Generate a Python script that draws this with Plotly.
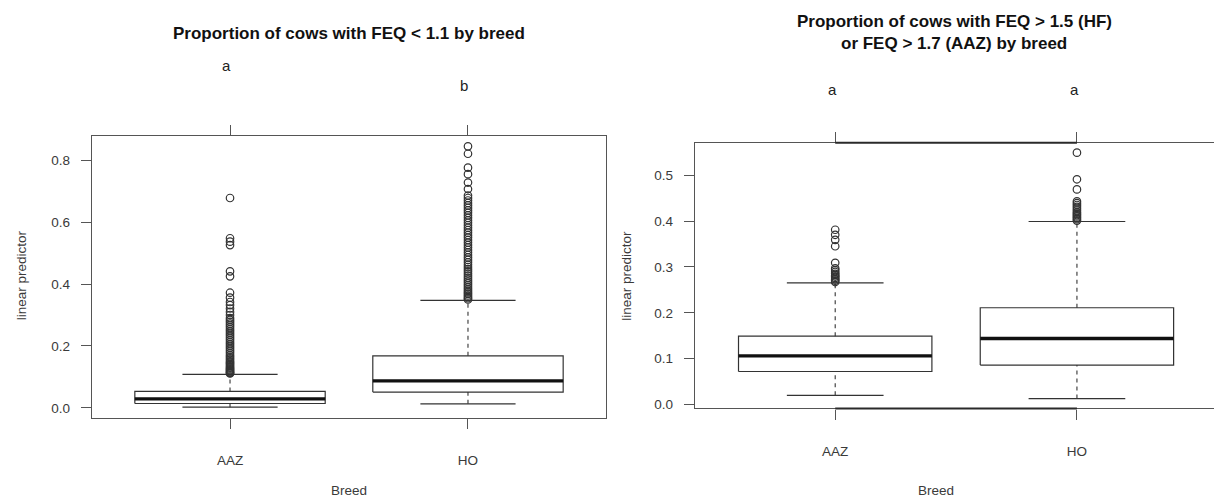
import plotly.graph_objects as go

W, H = 1214, 500

categories = ["AAZ", "HO"]
positions = [1, 2]

# ---- left panel: FEQ < 1.1 ----
left_title = "Proportion of cows with FEQ < 1.1 by breed"
left_letters = ["a", "b"]
left_lower = [0.002, 0.013]
left_q1 = [0.014, 0.051]
left_median = [0.029, 0.087]
left_q3 = [0.053, 0.168]
left_upper = [0.108, 0.347]
left_out_aaz = [0.111, 0.113, 0.115, 0.118, 0.121, 0.124, 0.127, 0.130, 0.134, 0.138,
                0.142, 0.146, 0.150, 0.155, 0.160, 0.165, 0.170, 0.176, 0.182, 0.188,
                0.194, 0.200, 0.206, 0.212, 0.218, 0.224, 0.230, 0.236, 0.242, 0.248,
                0.254, 0.260, 0.266, 0.272, 0.278, 0.284, 0.290, 0.300, 0.310, 0.321,
                0.332, 0.342, 0.356, 0.372, 0.425, 0.441, 0.526, 0.537, 0.548, 0.678]
left_out_ho = [0.350, 0.354, 0.358, 0.363, 0.368, 0.373, 0.378, 0.384, 0.390, 0.396,
               0.402, 0.408, 0.414, 0.420, 0.427, 0.434, 0.441, 0.448, 0.455, 0.462,
               0.470, 0.478, 0.486, 0.494, 0.502, 0.510, 0.518, 0.526, 0.534, 0.542,
               0.550, 0.558, 0.566, 0.574, 0.582, 0.590, 0.598, 0.606, 0.614, 0.622,
               0.630, 0.638, 0.646, 0.654, 0.662, 0.670, 0.678, 0.686, 0.707, 0.728,
               0.755, 0.776, 0.821, 0.845]

# ---- right panel: FEQ > 1.5 (HF) / > 1.7 (AAZ) ----
right_title_1 = "Proportion of cows with FEQ > 1.5 (HF)"
right_title_2 = "or FEQ > 1.7 (AAZ) by breed"
right_letters = ["a", "a"]
right_lower = [0.020, 0.013]
right_q1 = [0.072, 0.086]
right_median = [0.106, 0.144]
right_q3 = [0.149, 0.211]
right_upper = [0.265, 0.399]
right_out_aaz = [0.267, 0.270, 0.273, 0.276, 0.279, 0.282, 0.285, 0.289, 0.293, 0.297,
                 0.309, 0.345, 0.359, 0.370, 0.381]
right_out_ho = [0.401, 0.404, 0.407, 0.410, 0.413, 0.416, 0.419, 0.423, 0.427, 0.431,
                0.435, 0.439, 0.443, 0.469, 0.491, 0.549]

y_ticks_left = [0.0, 0.2, 0.4, 0.6, 0.8]
y_ticks_right = [0.0, 0.1, 0.2, 0.3, 0.4, 0.5]
x_title = "Breed"
y_title = "linear predictor"

FONT = "Liberation Sans, Arial, Helvetica, sans-serif"
AX_COL = "#555555"
TXT_COL = "#3a3a3a"
BOX_COL = "#333333"
BOXWEX = 0.8
STAPLE = 0.4

fig = go.Figure()


def add_boxes(xa, ya, lower, q1, med, q3, upper, outs):
    for i, p in enumerate(positions):
        h = BOXWEX / 2
        s = STAPLE / 2
        # box
        fig.add_trace(go.Scatter(x=[p - h, p + h, p + h, p - h, p - h],
                                 y=[q1[i], q1[i], q3[i], q3[i], q1[i]],
                                 mode="lines", line=dict(color=BOX_COL, width=1.2),
                                 xaxis=xa, yaxis=ya, hoverinfo="skip"))
        # whiskers (dashed)
        fig.add_trace(go.Scatter(x=[p, p], y=[q3[i], upper[i]], mode="lines",
                                 line=dict(color=BOX_COL, width=1.1, dash="4px,4px"),
                                 xaxis=xa, yaxis=ya, hoverinfo="skip"))
        fig.add_trace(go.Scatter(x=[p, p], y=[lower[i], q1[i]], mode="lines",
                                 line=dict(color=BOX_COL, width=1.1, dash="4px,4px"),
                                 xaxis=xa, yaxis=ya, hoverinfo="skip"))
        # staples
        for v in (upper[i], lower[i]):
            fig.add_trace(go.Scatter(x=[p - s, p + s], y=[v, v], mode="lines",
                                     line=dict(color=BOX_COL, width=1.2),
                                     xaxis=xa, yaxis=ya, hoverinfo="skip"))
        # median
        fig.add_trace(go.Scatter(x=[p - h, p + h], y=[med[i], med[i]], mode="lines",
                                 line=dict(color="#111111", width=3.4),
                                 xaxis=xa, yaxis=ya, hoverinfo="skip"))
        # outliers
        fig.add_trace(go.Scatter(x=[p] * len(outs[i]), y=outs[i], mode="markers",
                                 marker=dict(symbol="circle-open", size=7.5,
                                             color=BOX_COL, line=dict(width=1.2)),
                                 xaxis=xa, yaxis=ya, hoverinfo="skip"))


add_boxes("x", "y", left_lower, left_q1, left_median, left_q3, left_upper,
          [left_out_aaz, left_out_ho])
add_boxes("x2", "y2", right_lower, right_q1, right_median, right_q3, right_upper,
          [right_out_aaz, right_out_ho])


def r_range(lo, hi):
    d = hi - lo
    return [lo - 0.04 * d, hi + 0.04 * d]


left_all = left_lower + left_out_aaz + left_out_ho + left_upper
right_all = right_lower + right_out_aaz + right_out_ho + right_upper
yr_left = r_range(min(left_all), max(left_all))
yr_right = r_range(min(right_all), max(right_all))

tickfont = dict(family=FONT, size=13.5, color=TXT_COL)

common_x = dict(tickmode="array", tickvals=positions, ticktext=categories,
                showline=True, linecolor=AX_COL, linewidth=1.3, mirror="ticks",
                ticks="outside", ticklen=10, tickwidth=1.3, tickcolor=AX_COL,
                showgrid=False, zeroline=False, tickfont=tickfont,
                ticklabelstandoff=20, fixedrange=True)
common_y = dict(tickmode="array", showline=True, linecolor=AX_COL, linewidth=1.3,
                ticks="outside", ticklen=10, tickwidth=1.3, tickcolor=AX_COL,
                showgrid=False, zeroline=False, tickfont=tickfont,
                ticklabelstandoff=8, fixedrange=True)

fig.update_layout(
    width=W, height=H,
    margin=dict(l=0, r=0, t=0, b=0),
    paper_bgcolor="white", plot_bgcolor="white",
    showlegend=False,
    xaxis=dict(domain=[92 / W, 606 / W], range=[0.42, 2.58], anchor="y", **common_x),
    yaxis=dict(domain=[(H - 421) / H, (H - 137) / H], range=yr_left, anchor="x",
               tickvals=y_ticks_left, ticktext=[f"{v:.1f}" for v in y_ticks_left],
               mirror=True, **common_y),
    xaxis2=dict(domain=[695 / W, 1.0], range=[0.42, 2.567], anchor="y2", **common_x),
    yaxis2=dict(domain=[(H - 411.7) / H, (H - 144) / H], range=yr_right, anchor="x2",
                tickvals=y_ticks_right, ticktext=[f"{v:.1f}" for v in y_ticks_right],
                mirror=False, **common_y),
)

# darker axis segments on right panel (axis line between first & last tick)
for yy in (0, 1):
    fig.add_shape(type="line", xref="x2", yref="y2 domain",
                  x0=positions[0], x1=positions[-1], y0=yy, y1=yy,
                  line=dict(color="#2a2a2a", width=2))

ann = []
title_font = dict(family=FONT, size=17, color="#111111")
ann.append(dict(text=f"<b>{left_title}</b>", xref="x domain", yref="paper",
                x=0.5, y=1 - 34 / H, showarrow=False, font=title_font,
                xanchor="center", yanchor="middle"))
ann.append(dict(text=f"<b>{right_title_1}</b>", xref="paper", yref="paper",
                x=954 / W, y=1 - 22 / H, showarrow=False, font=title_font,
                xanchor="center", yanchor="middle"))
ann.append(dict(text=f"<b>{right_title_2}</b>", xref="paper", yref="paper",
                x=954 / W, y=1 - 43.5 / H, showarrow=False, font=title_font,
                xanchor="center", yanchor="middle"))

letter_font = dict(family=FONT, size=15, color="#222222")
for p, lt, yp in zip(positions, left_letters, [66, 86]):
    ann.append(dict(text=lt, xref="x", yref="paper", x=p - 0.015, y=1 - yp / H,
                    showarrow=False, font=letter_font, yanchor="middle"))
for p, lt in zip(positions, right_letters):
    ann.append(dict(text=lt, xref="x2", yref="paper", x=p - 0.01, y=1 - 90 / H,
                    showarrow=False, font=letter_font, yanchor="middle"))

axt_font = dict(family=FONT, size=13.5, color=TXT_COL)
ann.append(dict(text=x_title, xref="x domain", yref="paper", x=0.5, y=1 - 494.5 / H,
                showarrow=False, font=axt_font, yanchor="middle"))
ann.append(dict(text=x_title, xref="paper", yref="paper", x=956 / W, y=1 - 494.5 / H,
                showarrow=False, font=axt_font, yanchor="middle"))
ann.append(dict(text=y_title, xref="paper", yref="paper", x=21.5 / W, y=1 - 278 / H,
                showarrow=False, font=axt_font, textangle=-90,
                xanchor="center", yanchor="middle"))
ann.append(dict(text=y_title, xref="paper", yref="paper", x=627 / W, y=1 - 278 / H,
                showarrow=False, font=axt_font, textangle=-90,
                xanchor="center", yanchor="middle"))
fig.update_layout(annotations=ann)

fig.write_html("out.html", config={"displayModeBar": False},
               post_script="document.body.style.margin='0';"
                           "document.body.style.overflow='hidden';")
